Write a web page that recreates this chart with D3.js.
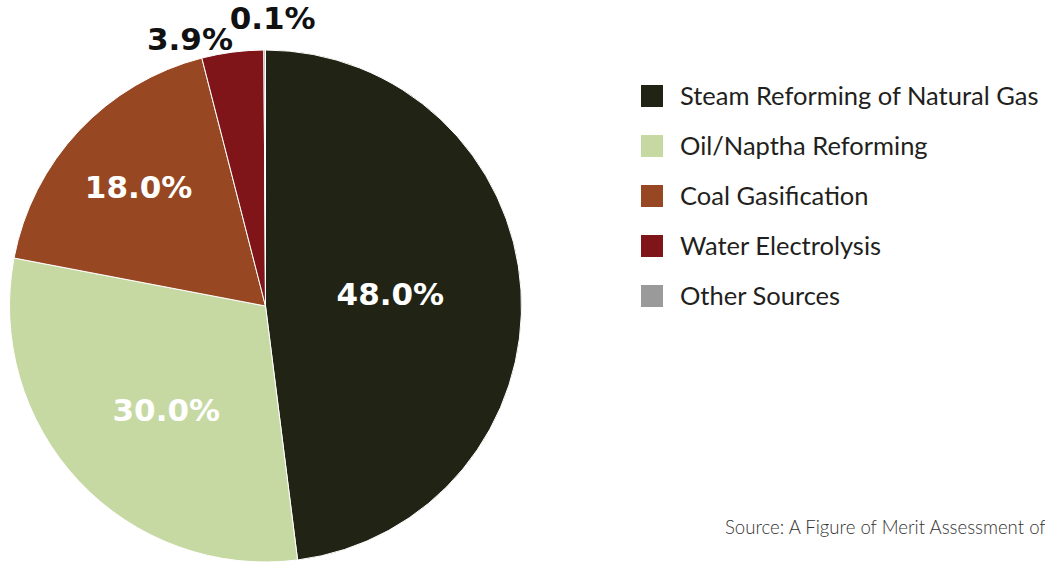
<!DOCTYPE html>
<html>
<head>
<meta charset="utf-8">
<script src="https://cdn.jsdelivr.net/npm/d3@7"></script>
<style>
  html, body { margin: 0; padding: 0; background: #fff; }
  svg { display: block; }
</style>
</head>
<body>
<svg id="chart" width="1045" height="562"></svg>
<script>
// ---- data ----
const categories = ["Steam Reforming of Natural Gas", "Oil/Naptha Reforming", "Coal Gasification", "Water Electrolysis", "Other Sources"];
const values = [48.0, 30.0, 18.0, 3.9, 0.1];
const valueLabels = ["48.0%", "30.0%", "18.0%", "3.9%", "0.1%"];
const colors = ["#212414", "#c7d9a3", "#974822", "#7f1419", "#9a9a9a"];
const sourceText = "Source: A Figure of Merit Assessment of";

// ---- layout (styling, not data) ----
const W = 1045, H = 562;
const cx = 265.5, cy = 306, R = 256;
const labelPlace = [
  { r: 0.49, da: -1.8, color: "#ffffff" },
  { r: 0.56, da: -3, color: "#ffffff" },
  { r: 0.68, da: 0, color: "#ffffff" },
  { r: 1.085, da: -8.4, color: "#111111" },
  { r: 1.125, da: 1.6, color: "#111111" }
];

const svg = d3.select("#chart");

const pie = d3.pie().sort(null).value(d => d).startAngle(0).endAngle(2 * Math.PI);
const arcs = pie(values);
const arc = d3.arc().innerRadius(0).outerRadius(R);

const g = svg.append("g").attr("transform", `translate(${cx},${cy})`);

g.selectAll("path.slice")
  .data(arcs)
  .join("path")
  .attr("class", "slice")
  .attr("d", arc)
  .attr("fill", (d, i) => colors[i])
  .attr("stroke", "#ffffff")
  .attr("stroke-width", 1);

g.selectAll("text.vlabel")
  .data(arcs)
  .join("text")
  .attr("class", "vlabel")
  .attr("transform", (d, i) => {
    const p = labelPlace[i];
    const mid = (d.startAngle + d.endAngle) / 2 + p.da * Math.PI / 180;
    const rr = p.r * R;
    return `translate(${rr * Math.sin(mid)},${-rr * Math.cos(mid)})`;
  })
  .attr("text-anchor", "middle")
  .attr("dy", "0.36em")
  .attr("font-family", "'DejaVu Sans', sans-serif")
  .attr("font-weight", "bold")
  .attr("font-size", 31)
  .attr("fill", (d, i) => labelPlace[i].color)
  .text((d, i) => valueLabels[i]);

// ---- legend ----
const legend = svg.append("g").attr("transform", "translate(641,96)");
const rowH = 50, sw = 22;
const items = legend.selectAll("g.item")
  .data(categories)
  .join("g")
  .attr("class", "item")
  .attr("transform", (d, i) => `translate(0,${i * rowH})`);

items.append("rect")
  .attr("x", 0).attr("y", -sw / 2)
  .attr("width", sw).attr("height", sw)
  .attr("fill", (d, i) => colors[i]);

items.append("text")
  .attr("x", 39)
  .attr("dy", "0.36em")
  .attr("font-family", "Lato, 'Open Sans', sans-serif")
  .attr("font-size", 25.5)
  .attr("fill", "#231f20")
  .text(d => d);

// ---- source ----
svg.append("text")
  .attr("x", 725)
  .attr("y", 534)
  .attr("font-family", "Lato, sans-serif")
  .attr("font-weight", 300)
  .attr("font-size", 18.6)
  .attr("fill", "#333333")
  .text(sourceText);
</script>
</body>
</html>
